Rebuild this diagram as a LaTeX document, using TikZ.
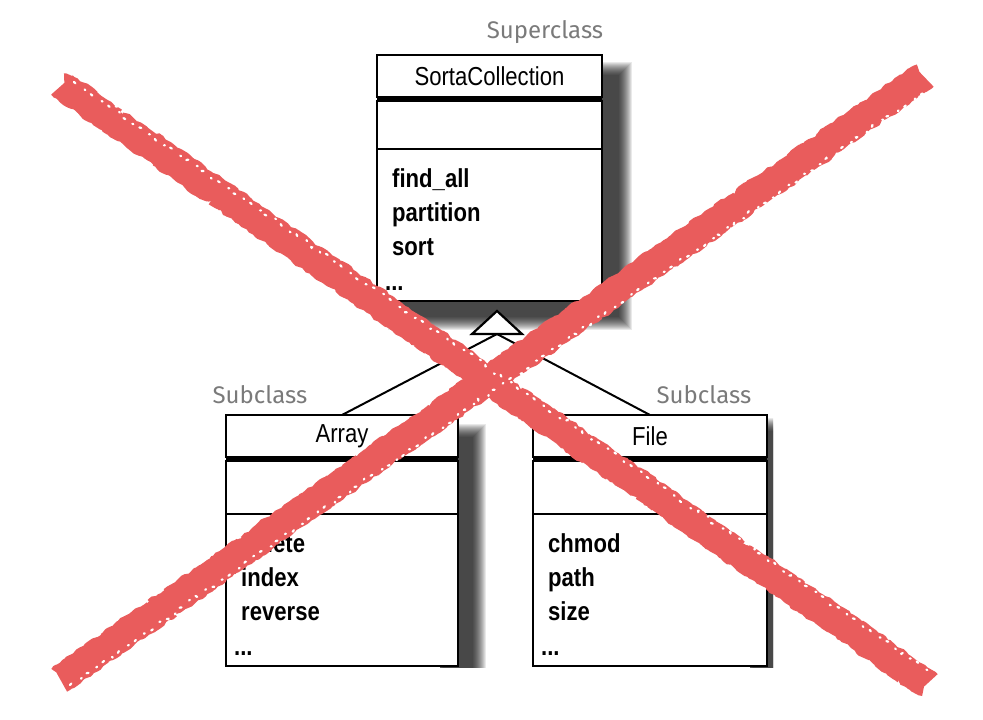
\documentclass[tikz,border=0pt]{standalone}
\usepackage{fontspec}
\setmainfont{Liberation Sans}[FakeStretch=0.85]
\newfontfamily\notefont{Fira Sans}
\usetikzlibrary{calc}
\usetikzlibrary{decorations.pathmorphing}

\definecolor{redx}{RGB}{233,92,92}
\definecolor{notegray}{RGB}{122,122,122}

\tikzset{
 umlbox/.style={draw, line width=2.2pt, fill=white, inner sep=0pt, outer sep=0pt, anchor=north west},
 headrule/.style={line width=4pt},
 titletext/.style={font=\fontsize{26}{30}\selectfont},
 opstext/.style={anchor=base west, inner sep=0pt, font=\fontsize{26}{30}\selectfont\bfseries},
 note/.style={font=\notefont\fontsize{24}{28}\selectfont, text=notegray},
 shadowstep/.style={fill=black, opacity=0.085},
 cross/.style={draw=redx, line width=29pt, line cap=butt, line join=bevel, decorate, decoration={random steps, segment length=3pt, amplitude=1.6pt}},
 speckle/.style={draw=white, line width=2.2pt, line cap=round, dash pattern=on 2pt off 11pt on 1pt off 7pt, decorate, decoration={random steps, segment length=4pt, amplitude=2pt}},
}

\begin{document}
\begin{tikzpicture}[x=1pt, y=-1pt]
\useasboundingbox (0,0) rectangle (983,720);

% shadows
\foreach \i in {0,...,13}
 \fill[shadowstep] (388+\i,62+\i) rectangle (632-\i,330-\i);
\begin{scope}
\clip (440,400) rectangle (500,667);
\foreach \i in {0,...,13}
 \fill[shadowstep] (430+\i,424+\i) rectangle (486-\i,700-\i);
\end{scope}
\begin{scope}
\clip (750,400) rectangle (773,667);
\foreach \i in {0,...,13}
 \fill[shadowstep] (740+\i,418+\i) rectangle (800-\i,700-\i);
\end{scope}

% classes
\foreach \n/\x/\y/\w/\ah/\t/\ops in {sc/377/55/225/48/SortaCollection/{find\_all,partition,sort},
   ar/226/415/232/53/Array/{delete,index,reverse},
   fi/533/415/234/53/File/{chmod,path,size}} {
 \node[umlbox, titletext, minimum width=\w pt, minimum height=42pt] (\n) at (\x,\y) {\t};
 \node[umlbox, minimum width=\w pt, minimum height=\ah pt] (\n-attr) at ($(\n.south west)+(0,4)$) {};
 \node[umlbox, minimum width=\w pt, minimum height=152pt] (\n-ops) at (\n-attr.south west) {};
 \draw[headrule] ($(\n.south west)+(0,2)$) -- ($(\n.south east)+(0,2)$);
 \foreach \m [count=\i] in \ops
  \node[opstext] at ($(\n-ops.north west)+(15,38+34*\i-34)$) {\m};
 \node[opstext] at ($(\n-ops.north west)+(8,141)$) {...};
}

% generalization
\coordinate (gen-tip) at (497,311);
\coordinate (gen) at (497,334);
\draw[line width=2pt] (gen) -- (ar.north);
\draw[line width=2pt] (gen) -- (fi.north);
\draw[line width=2.2pt, fill=white] (gen-tip) -- ($(gen)+(-25,0)$) -- ($(gen)+(25,0)$) -- cycle;

% notes
\node[note] (sc-note) at (545,32) {Superclass};
\node[note] (ar-note) at (260,395) {Subclass};
\node[note] (fi-note) at (704,395) {Subclass};

% the big X
\coordinate (x1) at (62,85);
\coordinate (x2) at (927,684);
\coordinate (x3) at (60,679);
\coordinate (x4) at (924,76);
\draw[cross] (x1) -- (x2);
\draw[cross] (x3) -- (x4);
\draw[speckle] ($(x1)+(12,-3)$) -- ($(x2)+(2,-13)$);
\draw[speckle] ($(x3)+(10,6)$) -- ($(x4)+(2,14)$);
\end{tikzpicture}
\end{document}
